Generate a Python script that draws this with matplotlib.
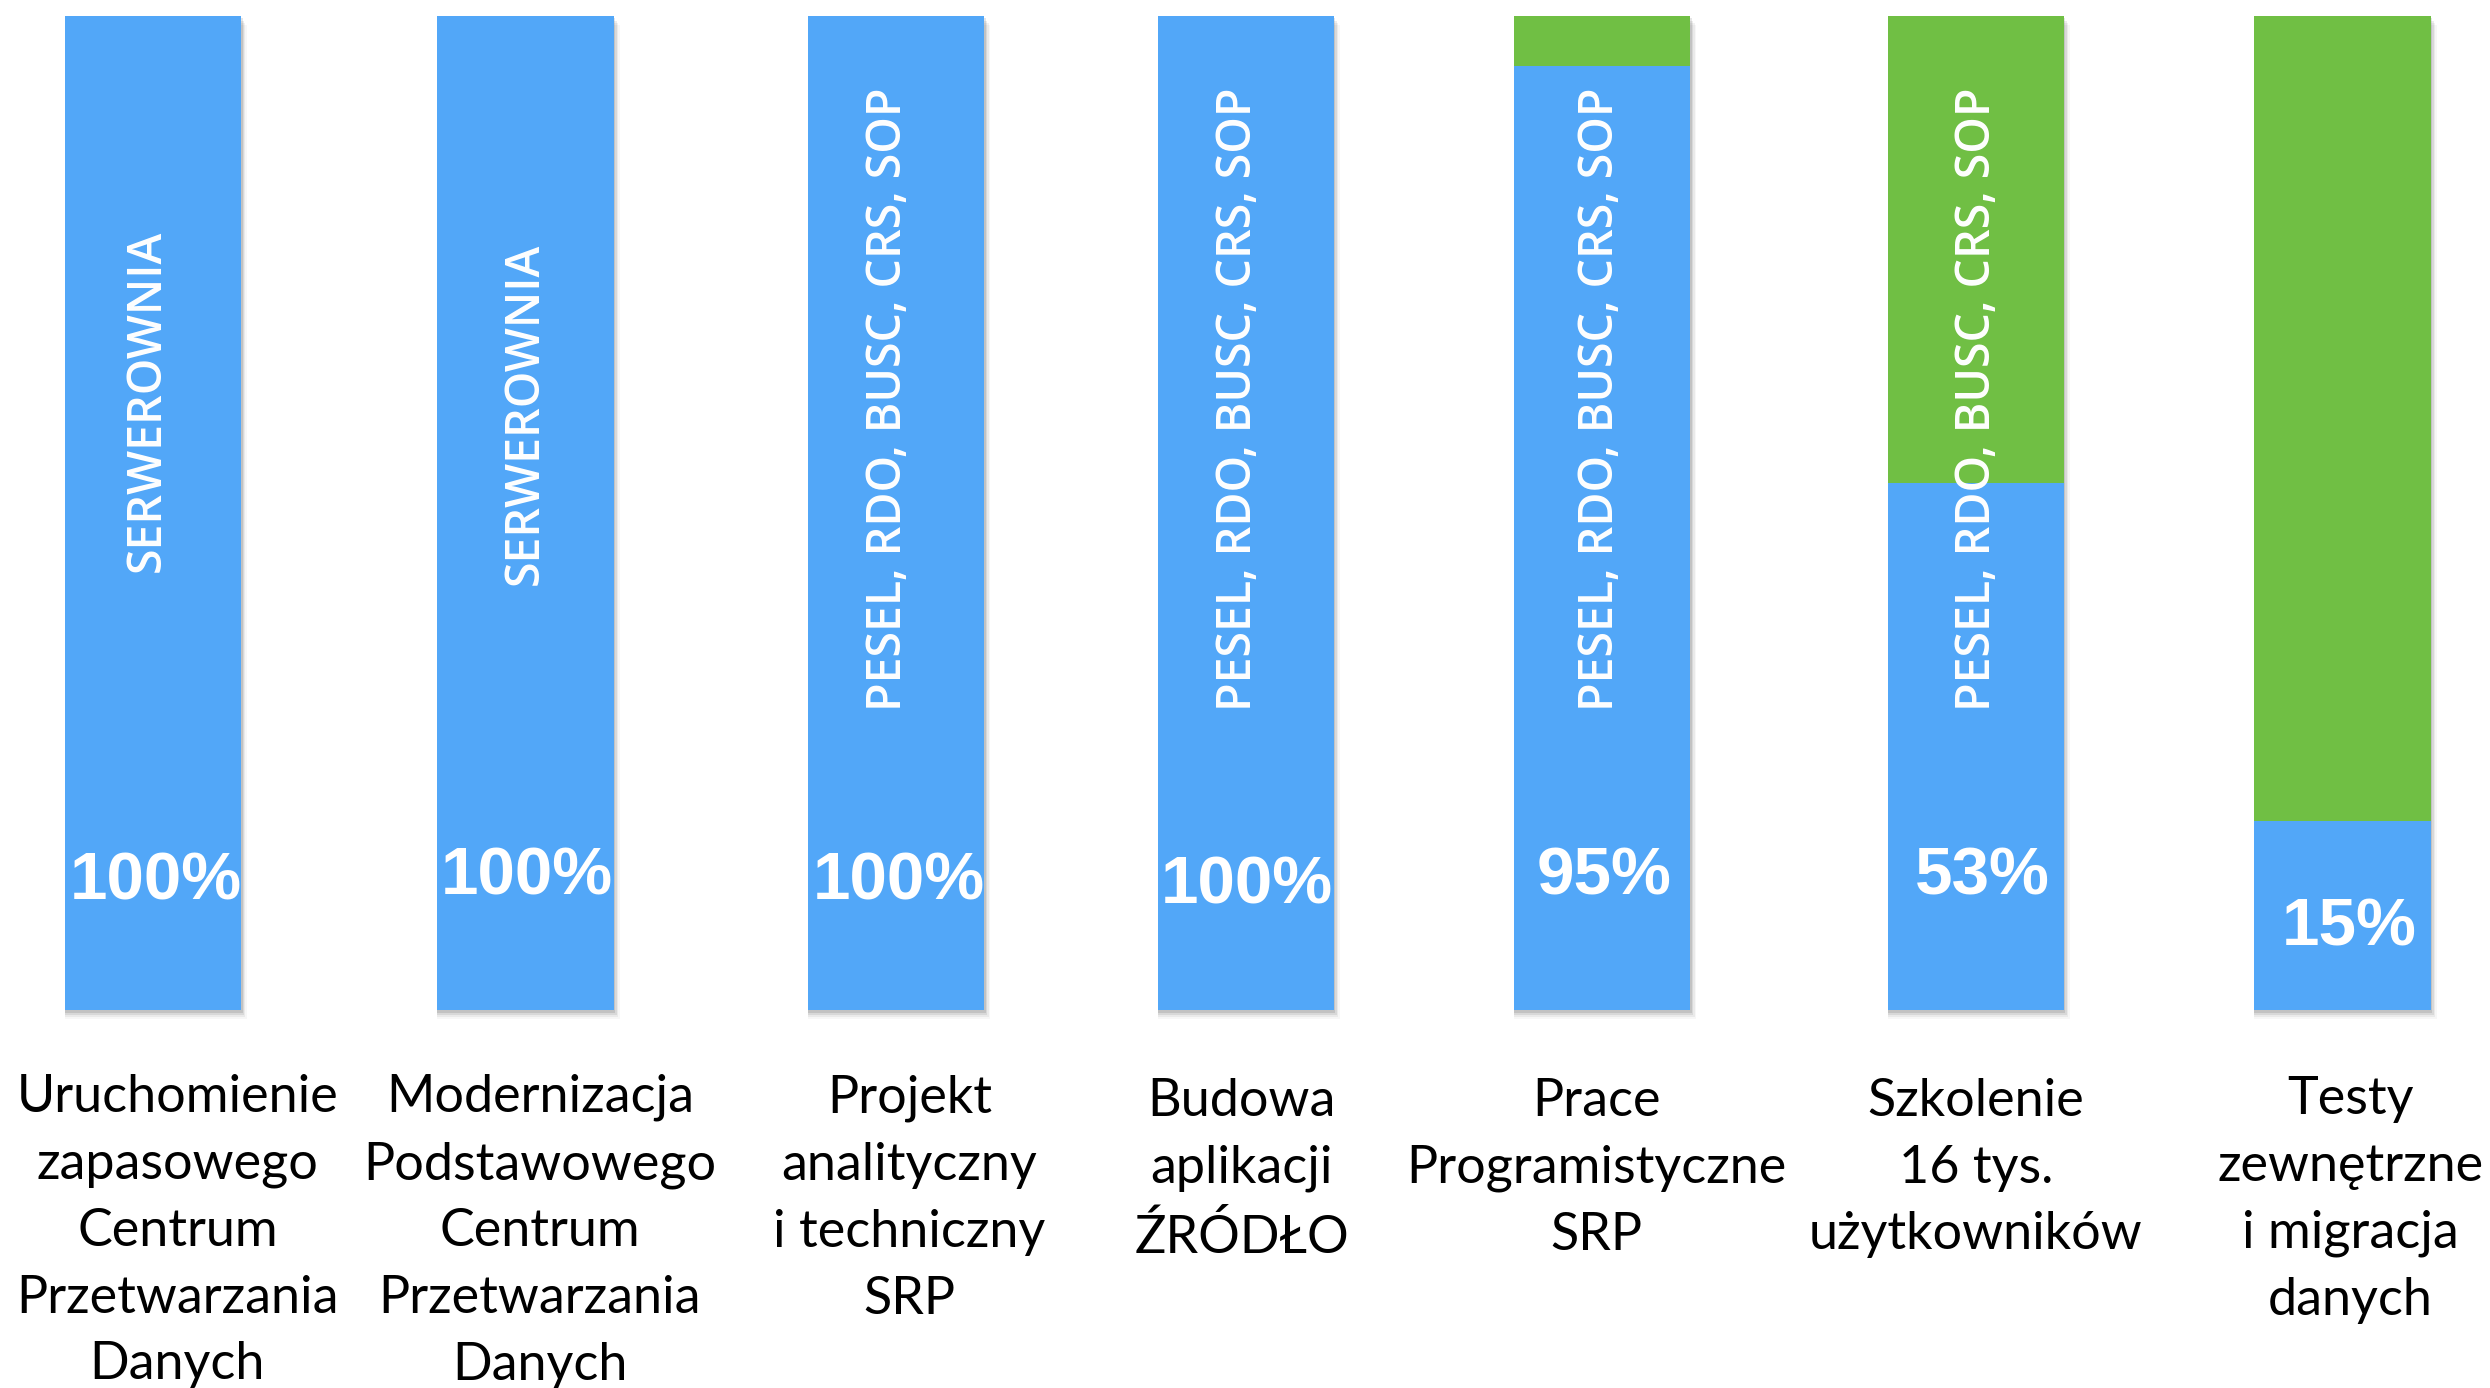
import matplotlib
matplotlib.use("Agg")
import matplotlib.pyplot as plt
import numpy as np

# ---- data ----
categories = [
    "Uruchomienie\nzapasowego\nCentrum\nPrzetwarzania\nDanych",
    "Modernizacja\nPodstawowego\nCentrum\nPrzetwarzania\nDanych",
    "Projekt\nanalityczny\ni techniczny\nSRP",
    "Budowa\naplikacji\nŹRÓDŁO",
    "Prace\nProgramistyczne\nSRP",
    "Szkolenie\n16 tys.\nużytkowników",
    "Testy\nzewnętrzne\ni migracja\ndanych",
]
done = [100, 100, 100, 100, 95, 53, 19]
total = [100, 100, 100, 100, 100, 100, 100]
pct_labels = ["100%", "100%", "100%", "100%", "95%", "53%", "15%"]
inner_labels = ["SERWEROWNIA", "SERWEROWNIA",
                "PESEL, RDO, BUSC, CRS, SOP", "PESEL, RDO, BUSC, CRS, SOP",
                "PESEL, RDO, BUSC, CRS, SOP", "PESEL, RDO, BUSC, CRS, SOP", ""]

BLUE = "#52A7F8"
GREEN = "#70BF44"

# layout (slot positions of the bars, as placed on the slide)
x = np.array([0.0, 1.021, 2.036, 2.994, 3.971, 4.994, 5.999])
width = 0.483

fig = plt.figure(figsize=(24.9, 13.88), dpi=100)
ax = fig.add_axes([0, 0, 1, 1])
ax.set_xlim(-0.419, 6.403)
ax.set_ylim(-38.0, 101.6)
ax.axis("off")

remaining = [t - d for t, d in zip(total, done)]

# soft drop shadow
for k, a in enumerate([0.10, 0.07, 0.05, 0.03]):
    dx = 0.002 + 0.002 * k
    dy = 0.25 + 0.22 * k
    ax.bar(x + dx, total, width=width + 0.004 * (k + 1), bottom=-dy,
           color="black", alpha=a, linewidth=0, zorder=1)

ax.bar(x, done, width=width, color=BLUE, linewidth=0, zorder=3)
ax.bar(x, remaining, width=width, bottom=done, color=GREEN, linewidth=0, zorder=2)

# percentage labels
pct_y = [12.85, 13.35, 12.85, 12.45, 13.35, 13.35, 8.25]
pct_dx = [0.007, 0.004, 0.007, 0.002, 0.004, 0.017, 0.018]
for i, lab in enumerate(pct_labels):
    ax.text(x[i] + pct_dx[i], pct_y[i], lab, ha="center", va="center",
            color="white", fontsize=48.5, fontweight="bold",
            family="Liberation Sans", zorder=5)

# rotated labels inside bars
inner_y = [61.3, 60.0, 61.4, 61.4, 61.4, 61.4, 61.4]
inner_dx = [-0.015, 0.0, -0.02, -0.02, -0.004, 0.004, 0.0]
for i, lab in enumerate(inner_labels):
    if lab:
        ax.text(x[i] + inner_dx[i], inner_y[i], lab, ha="center", va="center",
                rotation=90, color="white", fontsize=33.5, fontweight="semibold",
                family="Open Sans", zorder=5)

# category labels below bars
cat_dx = [0.067, 0.039, 0.037, -0.011, -0.017, 0.0, 0.022]
cat_y = [-6.4, -6.4, -6.5, -6.8, -6.8, -6.8, -6.6]
for i, lab in enumerate(categories):
    ax.text(x[i] + cat_dx[i], cat_y[i], lab, ha="center", va="top",
            color="black", fontsize=37.5, family="Lato", linespacing=1.52,
            zorder=5)

fig.savefig("out.png", dpi=100, facecolor="white")
